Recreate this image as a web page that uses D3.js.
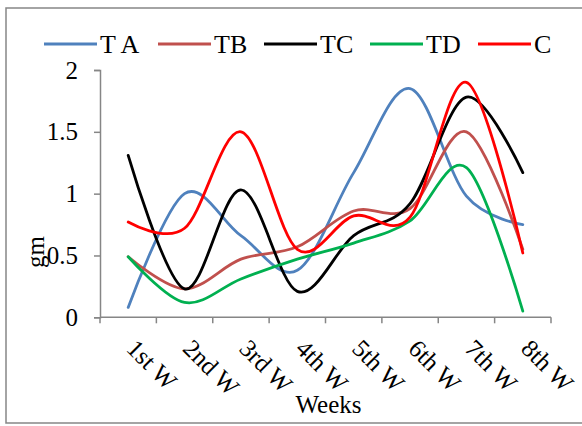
<!DOCTYPE html>
<html><head><meta charset="utf-8">
<script src="https://cdn.jsdelivr.net/npm/d3@7"></script>
<style>
html,body{margin:0;padding:0;background:#fff;}
svg{display:block;}
</style></head>
<body>
<svg id="chart" width="582" height="426"></svg>
<script>
const categories = ["1st W","2nd W","3rd W","4th W","5th W","6th W","7th W","8th W"];
const seriesNames = ["T A","TB","TC","TD","C"];
const seriesColors = ["#4F81BD","#C0504D","#000000","#00B050","#FF0000"];
const TA = [0.08, 1.00, 0.66, 0.38, 1.17, 1.85, 0.98, 0.75];
const TB = [0.49, 0.23, 0.47, 0.57, 0.86, 0.88, 1.50, 0.55];
const TC = [1.31, 0.23, 1.03, 0.21, 0.66, 0.92, 1.78, 1.17];
const TD = [0.49, 0.12, 0.31, 0.47, 0.60, 0.78, 1.21, 0.05];
const C  = [0.77, 0.72, 1.50, 0.55, 0.82, 0.81, 1.90, 0.52];
const yTicks = [0, 0.5, 1, 1.5, 2];
const yTickLabels = ["0","0.5","1","1.5","2"];
const xTitle = "Weeks";
const yTitle = "gm";

(function(){
const FONT = "'Liberation Serif', Tinos, 'Times New Roman', 'DejaVu Serif', serif";
const seriesData = [TA, TB, TC, TD, C];
const svg = d3.select("#chart");
const axisColor = "#868686";

svg.append("rect").attr("x",6).attr("y",8).attr("width",580).attr("height",415)
  .attr("fill","none").attr("stroke",axisColor).attr("stroke-width",1.5);

const pl = 100, pr = 551, pt = 70, pb = 317.3;
const x = d3.scaleBand().domain(categories).range([pl, pr]);
const y = d3.scaleLinear().domain([0, 2]).range([pb, pt]);

const yAxis = d3.axisLeft(y).tickValues(yTicks).tickSize(6).tickPadding(16)
  .tickFormat((d,i)=>yTickLabels[i]);
const gy = svg.append("g").attr("transform",`translate(${pl},0)`).call(yAxis)
  .attr("font-family", FONT).attr("font-size", 25);
gy.select(".domain").attr("stroke",axisColor).attr("stroke-width",1.5);
gy.selectAll(".tick line").attr("stroke",axisColor).attr("stroke-width",1.5);
gy.selectAll(".tick text").attr("fill","#000").style("font-family",FONT).style("font-size","25px");

const xTickPos = categories.map(c=>x(c)).concat([pr]);
svg.append("line").attr("x1",pl).attr("x2",pr).attr("y1",pb).attr("y2",pb)
  .attr("stroke",axisColor).attr("stroke-width",1.5);
svg.selectAll(".xt").data(xTickPos).enter().append("line")
  .attr("x1",d=>d).attr("x2",d=>d).attr("y1",pb).attr("y2",pb+6)
  .attr("stroke",axisColor).attr("stroke-width",1.5);
svg.selectAll(".xl").data(categories).enter().append("text")
  .attr("transform",d=>`translate(${x(d)+x.bandwidth()/2-3},350) rotate(45)`)
  .style("font-family",FONT).style("font-size","25px").attr("text-anchor","start").text(d=>d);

const line = d3.line()
  .x((d,i)=>x(categories[i])+x.bandwidth()/2)
  .y(d=>y(d))
  .curve(d3.curveCardinal.tension(0));
seriesData.forEach((s,i)=>{
  svg.append("path").datum(s).attr("d",line).attr("fill","none")
    .attr("stroke",seriesColors[i]).attr("stroke-width",2.8)
    .attr("stroke-linejoin","round").attr("stroke-linecap","round");
});

svg.append("text").attr("x",(pl+pr)/2+3).attr("y",413).attr("text-anchor","middle")
  .style("font-family",FONT).style("font-size","25px").text(xTitle);
svg.append("text").attr("transform",`translate(44,252) rotate(-90)`).attr("text-anchor","middle")
  .style("font-family",FONT).style("font-size","25px").text(yTitle);

const legX = [44, 158, 264, 370, 478];
seriesNames.forEach((n,i)=>{
  svg.append("line").attr("x1",legX[i]).attr("x2",legX[i]+53).attr("y1",44).attr("y2",44)
    .attr("stroke",seriesColors[i]).attr("stroke-width",2.8);
  svg.append("text").attr("x",legX[i]+56).attr("y",53)
    .style("font-family",FONT).style("font-size","26px").text(n);
});
})();
</script>
</body></html>
